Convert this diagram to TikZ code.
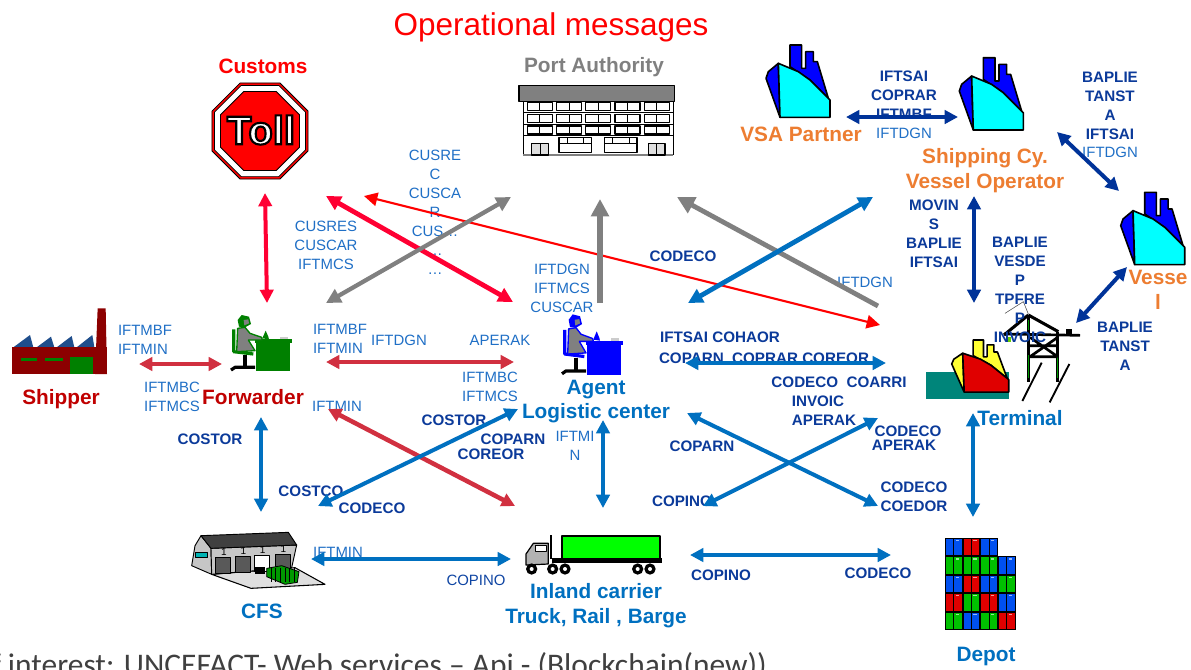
\documentclass[tikz,border=0pt]{standalone}
\usepackage{fontspec}
\setmainfont{Liberation Sans}
\newfontfamily\calib{Carlito}
\usetikzlibrary{arrows.meta,shapes.geometric}
\definecolor{navy}{HTML}{0B3A9A}
\definecolor{msgblue}{HTML}{1F6FC6}
\definecolor{lineblue}{HTML}{0070C0}
\definecolor{deepblue}{HTML}{003399}
\definecolor{crim}{HTML}{FF0033}
\definecolor{brick}{HTML}{D13040}
\definecolor{orng}{HTML}{ED7D31}
\definecolor{dred}{HTML}{C00000}
\definecolor{gry}{HTML}{808080}
\definecolor{aqua}{HTML}{00FFFF}
\definecolor{yel}{HTML}{FFFF33}
\definecolor{pure}{HTML}{0000FF}
\definecolor{hullred}{HTML}{E00000}
\definecolor{water}{HTML}{00857A}
\definecolor{roofblue}{HTML}{1F4E8C}
\definecolor{dgreen}{HTML}{008000}
\definecolor{cred}{HTML}{E00000}
\definecolor{cgreen}{HTML}{00C000}
\definecolor{cblue}{HTML}{0050F0}
\tikzset{
 msgb/.style={font=\fontsize{11.4}{14.2}\selectfont\bfseries,text=navy,align=center,inner sep=0pt},
 msgr/.style={font=\fontsize{11.2}{14.2}\selectfont,text=msgblue,align=center,inner sep=0pt},
 actor/.style={font=\fontsize{15.6}{18.6}\selectfont\bfseries,align=center,inner sep=0pt},
 dbl/.style={{Triangle[width=#1,length=#1]}-{Triangle[width=#1,length=#1]}},
 dbl/.default=10pt,
 one/.style={-{Triangle[width=13pt,length=13pt]}},
 lnkblue/.style={draw=lineblue,line width=3pt,dbl},
 lnkdeep/.style={draw=deepblue,line width=3pt,dbl},
 lnkbrick/.style={draw=brick,line width=3pt,dbl},
 lnkgrey/.style={draw=gry,line width=3.2pt,dbl=11pt},
 ic/.style={line join=round},
}
\newcommand{\shipicon}[6]{%
 \begin{scope}[shift={(#1,#2)},x=#3,y=-#4,ic,draw=black,line width=1.2pt]
  \path[fill=#5,draw] (72,0)--(107,0)--(107,70)--(119,70)--(119,20)--(142,20)--(142,50)--(154,50)--(187,160)--(132,105)--(72,65)--cycle;
  \path[fill=#5,draw] (37,55)--(7,80)--(0,100)--(42,217)--cycle;
  \path[fill=#6,draw] (37,55)--(97,80)--(132,105)--(192,165)--(192,217)--(42,217)--cycle;
 \end{scope}}
\newcommand{\deskicon}[4]{%
 \begin{scope}[shift={(#1,#2)},x=0.25pt,y=-#4,ic]
  \fill[#3] (90,88) rectangle (200,100);
  \fill[#3] (92,100) rectangle (195,183);
  \fill[gray!40] (165,80) rectangle (190,88);
  \fill[#3] (112,85) -- (122,62) -- (130,80) -- (132,88) -- cycle;
  \draw[#3,line width=2.4pt] (26,58) -- (26,125) -- (85,132);
  \fill[#3] (38,30) -- (50,15) -- (72,20) -- (78,42) -- (60,52) -- (42,50) -- cycle;
  \fill[gray] (56,30) -- (70,28) -- (72,40) -- (58,46) -- cycle;
  \fill[gray,draw=#3,line width=1pt] (38,55) -- (60,52) -- (75,70) -- (110,82) -- (112,90) -- (70,90) -- (90,122) -- (35,125) -- cycle;
  \draw[black,line width=2.4pt] (60,135) -- (60,172);
  \draw[black,line width=2.4pt] (18,180) -- (30,172) -- (90,172);
 \end{scope}}
\begin{document}
\begin{tikzpicture}[x=0.75pt,y=-0.75pt]
\path[use as bounding box,fill=white] (0,0) rectangle (1191,669);

% ---- icons ----
% toll sign
\node[regular polygon,regular polygon sides=8,minimum size=78pt,inner sep=0pt,fill=red,draw=black,line width=.6pt] (tollouter) at (260,131) {};
\node[regular polygon,regular polygon sides=8,minimum size=74pt,inner sep=0pt,fill=white,draw=black,line width=.5pt] (tollring) at (260,131) {};
\node[regular polygon,regular polygon sides=8,minimum size=64pt,inner sep=0pt,fill=red,draw=black,line width=.6pt] (tollinner) at (260,131) {};
\node[inner sep=0pt,font=\fontsize{30}{30}\selectfont\bfseries] (tolltext) at (261,130) {\color{white}\special{pdf:code 2 Tr 1.6 w 0 G}Toll\special{pdf:code 0 Tr}};

% building
\begin{scope}[shift={(515,80)},x=0.25pt,y=-0.25pt,ic]
 \fill[white] (25,65) rectangle (475,225);
 \draw[black,line width=.8pt] (25,65) -- (25,225);
 \draw[black,line width=.8pt] (475,65) -- (475,225);
 \fill[gray,draw=black,line width=.9pt] (12,17) rectangle (478,64);
 \foreach \cx in {37,125,212,300,388}{
  \foreach \cy in {68,103,138}{
   \draw[black,line width=.9pt] (\cx,\cy) rectangle (\cx+75,\cy+24);
   \draw[black,line width=.7pt] (\cx+37,\cy) -- (\cx+37,\cy+24);
  }}
 \draw[black,line width=.6pt] (25,97) -- (475,97);
 \draw[black,line width=.6pt] (25,132) -- (475,132);
 \draw[black,line width=.6pt] (25,167) -- (475,167);
 \draw[gray,line width=1.2pt] (25,225) -- (475,225);
 \foreach \dx in {50,400}{
  \fill[gray!25,draw=black,line width=.8pt] (\dx,190) rectangle (\dx+50,225);
  \draw[black,line width=.6pt] (\dx+25,190) -- (\dx+25,225);}
 \foreach \dx in {132,268}{
  \draw[black,line width=.9pt] (\dx,172) rectangle (\dx+98,218);
  \draw[black,line width=.6pt] (\dx,190) -- (\dx+98,190);
  \draw[black,line width=.6pt] (\dx+24,172) -- (\dx+24,190);
  \draw[black,line width=.6pt] (\dx+74,172) -- (\dx+74,190);}
\end{scope}

% ships
\shipicon{766}{45}{0.25pt}{0.25pt}{pure}{aqua}
\shipicon{959.3}{57.7}{0.25pt}{0.25pt}{pure}{aqua}
\shipicon{1120.7}{192.3}{0.25pt}{0.25pt}{pure}{aqua}

% terminal: water, ship, crane
\fill[water] (926,372) rectangle (1009,399);
\shipicon{951.7}{340}{0.2227pt}{0.18pt}{yel}{hullred}
\begin{scope}[shift={(900,300)},x=0.25pt,y=-0.25pt,ic]
 \draw[black!70,line width=.4pt] (315,40) -- (370,5) -- (385,42);
 \draw[black,line width=2.3pt] (385,45) -- (475,95);
 \draw[black,line width=2.3pt] (385,45) -- (312,105);
 \draw[black,line width=2pt] (312,102) -- (540,106);
 \fill[black] (498,88) rectangle (516,102);
 \fill[green!70!black!60!yellow] (318,112) rectangle (334,126);
 \draw[black,line width=2.6pt] (385,45) -- (385,245);
 \draw[black,line width=2.6pt] (473,95) -- (473,245);
 \draw[green!60!black,line width=.9pt] (385,60) -- (385,90) (385,165) -- (385,235) (473,165) -- (473,235);
 \draw[black,line width=2pt] (390,170) -- (473,170) (390,112) -- (473,170) (390,170) -- (473,112) (390,137) -- (473,137);
 \draw[black,line width=1.4pt] (425,188) -- (367,303);
 \draw[black,line width=1.4pt] (508,192) -- (449,307);
\end{scope}

% agent and forwarder
\deskicon{225}{310}{dgreen}{0.25pt}
\deskicon{556}{309}{pure}{0.27pt}

% factory
\begin{scope}[shift={(5,300)},x=0.25pt,y=-0.25pt,ic]
 \fill[roofblue] (25,142) -- (75,105) -- (85,142) -- cycle;
 \fill[roofblue] (95,142) -- (138,110) -- (148,142) -- cycle;
 \fill[roofblue] (155,142) -- (200,108) -- (208,142) -- cycle;
 \fill[roofblue] (215,142) -- (262,105) -- (268,142) -- cycle;
 \fill[red!55!black] (22,142) rectangle (305,222);
 \fill[red!55!black] (278,25) -- (302,25) -- (306,222) -- (270,222) -- cycle;
 \fill[dgreen] (47,173) rectangle (95,182);
 \fill[dgreen] (120,173) rectangle (175,182);
 \fill[dgreen] (195,172) rectangle (265,222);
\end{scope}

% CFS warehouse
\begin{scope}[shift={(185,525)},x=0.25pt,y=-0.25pt,ic]
 \fill[gray!25,draw=black,line width=.8pt] (80,148) -- (330,128) -- (420,178) -- (198,190) -- cycle;
 \fill[gray!45,draw=black,line width=.7pt] (48,32) -- (78,70) -- (80,148) -- (20,122) -- (30,62) -- cycle;
 \fill[gray!45,draw=black,line width=.7pt] (78,70) -- (335,60) -- (320,128) -- (80,148) -- cycle;
 \fill[black!75,draw=black,line width=.7pt] (48,32) -- (310,22) -- (335,60) -- (78,70) -- cycle;
 \fill[teal!60!cyan,draw=black,line width=.5pt] (30,82) rectangle (68,98);
 \foreach \ddx/\ddy/\dcol in {92/98/black!65,152/95/black!65,208/92/white,272/88/black!65}{
  \fill[\dcol,draw=black,line width=.7pt] (\ddx,\ddy) rectangle (\ddx+44,\ddy+46);
 }
 \fill[black] (210,125) rectangle (240,148);
 \fill[green!60!black,draw=black,line width=.6pt] (245,130) -- (290,122) -- (342,140) -- (337,172) -- (300,178) -- (245,155) -- cycle;
 \foreach \sx in {258,272,286,300,314,328}{\draw[black,line width=.3pt] (\sx,128) -- (\sx,170);}
 \node[inner sep=0pt,font=\fontsize{7.5}{8}\selectfont] (one1) at (117,81) {1};
 \node[inner sep=0pt,font=\fontsize{7.5}{8}\selectfont] (one2) at (175,79) {1};
 \node[inner sep=0pt,font=\fontsize{7.5}{8}\selectfont] (one3) at (233,76) {1};
 \node[inner sep=0pt,font=\fontsize{7.5}{8}\selectfont] (one4) at (295,72) {1};
\end{scope}

% truck
\begin{scope}[shift={(170,510)},x=0.25pt,y=-0.25pt,ic]
 \fill[green,draw=black,line width=1.4pt] (1175,78) rectangle (1470,148);
 \fill[black] (1145,145) rectangle (1475,160);
 \fill[black] (1139,75) rectangle (1147,146);
 \fill[gray!60,draw=black,line width=.9pt] (1068,132) -- (1090,100) -- (1135,100) -- (1135,162) -- (1068,165) -- cycle;
 \fill[white,draw=black,line width=.5pt] (1095,105) rectangle (1130,125);
 \foreach \wx in {1085,1148,1185,1403,1440}{
  \fill[black] (\wx,177) circle (17);
  \fill[white] (\wx,177) circle (6);}
\end{scope}

% depot
\begin{scope}[shift={(945,538)},x=0.75pt,y=-0.75pt,line width=.7pt]
 \foreach \col/\row/\cc in {0/0/cblue,1/0/cred,2/0/cblue,
   0/1/cgreen,1/1/cgreen,2/1/cgreen,3/1/cblue,
   0/2/cblue,1/2/cred,2/2/cblue,3/2/cgreen,
   0/3/cred,1/3/cgreen,2/3/cred,3/3/cblue,
   0/4/cgreen,1/4/cblue,2/4/cgreen,3/4/cred}{
  \pgfmathsetmacro{\cxa}{\col*17.7}
  \pgfmathsetmacro{\cya}{\row*18.4}
  \fill[\cc,draw=black] (\cxa+.5,\cya+.5) rectangle (\cxa+8.8,\cya+17.8);
  \fill[\cc,draw=black] (\cxa+8.8,\cya+.5) rectangle (\cxa+17.2,\cya+17.8);
  \fill[white!60!\cc] (\cxa+10.5,\cya+2) rectangle (\cxa+14,\cya+3.2);
 }
\end{scope}

% ---- labels ----
\node[inner sep=0pt,font=\fontsize{23.6}{26}\selectfont,text=red] (title) at (551,27) {Operational messages};
\node[actor,text=red] (customs) at (263,66) {Customs};
\node[actor,text=gry] (port) at (594,67) {Port Authority};
\node[actor,text=orng] (vsa) at (801,134) {VSA Partner};
\node[actor,text=orng,font=\fontsize{15.6}{18.7}\selectfont\bfseries] (shipcy) at (985,170.5) {Shipping Cy.\\Vessel Operator};
\node[actor,text=orng] (vessel) at (1158,289.5) {Vesse\\l};
\node[actor,text=dred] (shipper) at (61,399) {Shipper};
\node[actor,text=dred] (forwarder) at (253,397) {Forwarder};
\node[actor,text=lineblue] (agent) at (596,401.5) {Agent\\Logistic center};
\node[actor,text=lineblue] (terminal) at (1020,418) {Terminal};
\node[actor,text=lineblue] (cfs) at (262,611) {CFS};
\node[actor,text=lineblue] (inland) at (596,606) {Inland carrier\\Truck, Rail , Barge};
\node[actor,text=lineblue] (depot) at (986,656) {Depot};

\node[msgb] (m1) at (904,95) {IFTSAI\\COPRAR\\IFTMBF};
\node[msgr] (m2) at (904,133) {IFTDGN};
\node[msgb] (m3) at (1110,105.5) {BAPLIE\\TANST\\A\\IFTSAI};
\node[msgr] (m4) at (1110,152) {IFTDGN};
\node[msgb] (m5) at (934,233.5) {MOVIN\\S\\BAPLIE\\IFTSAI};
\node[msgb] (m6) at (1020,290) {BAPLIE\\VESDE\\P\\TPFRE\\P\\INVOIC};
\node[msgb] (m7) at (1125,346) {BAPLIE\\TANST\\A};
\node[msgr] (m8) at (865,282) {IFTDGN};
\node[msgb] (m9) at (683,256) {CODECO};
\node[msgb] (m10) at (720,337) {IFTSAI COHAOR};
\node[msgb] (m11) at (764,358) {COPARN\ \ COPRAR COREOR};
\node[msgb] (m12) at (839,382) {CODECO\ \ COARRI};
\node[msgb] (m13) at (818,401) {INVOIC};
\node[msgb] (m14) at (824,420) {APERAK};
\node[msgb] (m15) at (908,431) {CODECO};
\node[msgb] (m16) at (904,445) {APERAK};
\node[msgb] (m17) at (702,446) {COPARN};
\node[msgb] (m18) at (682,501) {COPINO};
\node[msgb] (m19) at (914,496.5) {CODECO\\COEDOR};
\node[msgr] (m20) at (562,288.5) {IFTDGN\\IFTMCS\\CUSCAR};
\node[msgr] (m21) at (435,212) {CUSRE\\C\\CUSCA\\R\\CUS…\\…\\…};
\node[msgr] (m22) at (326,245) {CUSRES\\CUSCAR\\IFTMCS};
\node[msgr,align=left] (m23) at (145,339.5) {IFTMBF\\IFTMIN};
\node[msgr,align=left] (m24) at (172,397) {IFTMBC\\IFTMCS};
\node[msgr,align=left] (m25) at (340,339) {IFTMBF\\IFTMIN};
\node[msgr] (m26) at (399,340) {IFTDGN};
\node[msgr] (m27) at (500,340) {APERAK};
\node[msgr,align=left] (m28) at (490,386.5) {IFTMBC\\IFTMCS};
\node[msgr] (m29) at (337,406) {IFTMIN};
\node[msgb] (m30) at (210,439) {COSTOR};
\node[msgb] (m31) at (454,420) {COSTOR};
\node[msgb] (m32) at (513,439) {COPARN};
\node[msgb] (m33) at (491,454) {COREOR};
\node[msgr] (m34) at (575,445.5) {IFTMI\\N};
\node[msgb] (m35) at (311,491) {COSTCO};
\node[msgb] (m36) at (372,508) {CODECO};
\node[msgr] (m37) at (338,552) {IFTMIN};
\node[msgr,text=navy!80!msgblue] (m38) at (476,580) {COPINO};
\node[msgb] (m39) at (721,575) {COPINO};
\node[msgb] (m40) at (878,573) {CODECO};

\begin{scope}
 \clip (0,0) rectangle (1191,669);
 \node[anchor=base west,inner sep=0pt,text=black!75,font=\calib\fontsize{23.6}{26}\selectfont] (footer) at (-9,675) {f interest: UNCEFACT- Web services – Api - (Blockchain(new))};
\end{scope}

% ---- anchors of the links ----
\coordinate (a1) at (265,193); \coordinate (a2) at (267,303);
\coordinate (a3) at (326,196); \coordinate (a4) at (513,302);
\coordinate (a5) at (364,196); \coordinate (a6) at (880,325);
\coordinate (a7) at (511,197); \coordinate (a8) at (326,303);
\coordinate (a9) at (600,199); \coordinate (a10) at (600,303);
\coordinate (a11) at (677,197); \coordinate (a12) at (878,306);
\coordinate (a13) at (873,197); \coordinate (a14) at (688,303);
\coordinate (a15) at (846,117); \coordinate (a16) at (958,117);
\coordinate (a17) at (1057,132); \coordinate (a18) at (1119,191);
\coordinate (a19) at (974,196); \coordinate (a20) at (974,303);
\coordinate (a21) at (1127,267); \coordinate (a22) at (1076,323);
\coordinate (a23) at (685,363); \coordinate (a24) at (886,363);
\coordinate (a25) at (687,413); \coordinate (a26) at (878,506);
\coordinate (a27) at (878,418); \coordinate (a28) at (703,506);
\coordinate (a29) at (973,413); \coordinate (a30) at (973,517);
\coordinate (a31) at (139,364); \coordinate (a32) at (222,364);
\coordinate (a33) at (326,362); \coordinate (a34) at (514,362);
\coordinate (a35) at (328,409); \coordinate (a36) at (515,506);
\coordinate (a37) at (518,409); \coordinate (a38) at (318,506);
\coordinate (a39) at (261,417); \coordinate (a40) at (261,512);
\coordinate (a41) at (603,420); \coordinate (a42) at (603,508);
\coordinate (a43) at (311,559); \coordinate (a44) at (511,559);
\coordinate (a45) at (690,555); \coordinate (a46) at (891,555);

% ---- links ----
\draw[draw=crim,line width=3pt,dbl=10pt] (a1) -- (a2);
\draw[draw=crim,line width=3.6pt,dbl=11pt] (a3) -- (a4);
\draw[draw=red,line width=1.6pt,dbl=10pt] (a5) -- (a6);
\draw[lnkgrey] (a7) -- (a8);
\draw[draw=gry,line width=4pt,one] (a10) -- (a9);
\draw[draw=gry,line width=3.6pt,one] (a12) -- (a11);
\draw[lnkblue,line width=3.6pt,dbl=11pt] (a13) -- (a14);
\draw[lnkdeep] (a15) -- (a16);
\draw[lnkdeep] (a17) -- (a18);
\draw[lnkdeep] (a19) -- (a20);
\draw[lnkdeep] (a21) -- (a22);
\draw[lnkblue] (a23) -- (a24);
\draw[lnkblue] (a25) -- (a26);
\draw[lnkblue] (a27) -- (a28);
\draw[lnkblue] (a29) -- (a30);
\draw[lnkbrick] (a31) -- (a32);
\draw[lnkbrick] (a33) -- (a34);
\draw[lnkbrick,line width=3.4pt] (a35) -- (a36);
\draw[lnkblue] (a37) -- (a38);
\draw[lnkblue] (a39) -- (a40);
\draw[lnkblue] (a41) -- (a42);
\draw[lnkblue] (a43) -- (a44);
\draw[lnkblue] (a45) -- (a46);
\end{tikzpicture}
\end{document}
